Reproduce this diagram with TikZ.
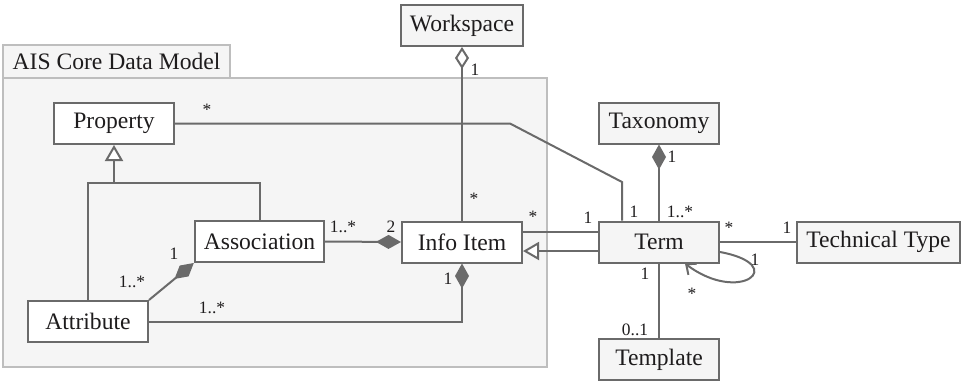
\documentclass[tikz,border=0pt]{standalone}
\usepackage{fontspec}
\setmainfont{Liberation Serif}
\usepackage{xcolor}
\usetikzlibrary{arrows.meta}

\definecolor{umlline}{HTML}{6A6A6A}
\definecolor{pkgline}{HTML}{BEBEBE}
\definecolor{pkgfill}{HTML}{F5F5F5}
\definecolor{umltext}{HTML}{1E1C1D}

\begin{document}
\begin{tikzpicture}[x=0.5pt, y=-0.5pt,
          class/.style={draw=umlline, line width=1pt, fill=white, text=umltext,
                        minimum width=60pt, minimum height=20.5pt, inner xsep=4.5pt,
                        font=\fontsize{11.8}{14}\selectfont},
          outer/.style={class, fill=pkgfill},
          link/.style={draw=umlline, line width=1pt},
          comp/.style={link, -{Diamond[length=12.5pt, width=7pt]}},
          aggr/.style={link, -{Diamond[length=11pt, width=7pt, fill=white]}},
          gen/.style={link, -{Triangle[length=8pt, width=9pt, fill=white]}},
          mult/.style={anchor=base, inner sep=0pt, text=umltext, font=\fontsize{8.7}{10}\selectfont}
        ]
          \useasboundingbox (0,0) rectangle (962,381);

          % package frame
          \node[draw=pkgline, fill=pkgfill, line width=0.8pt, minimum width=113.5pt, minimum height=16.5pt,
                inner sep=0pt, text=umltext, font=\fontsize{11.8}{14}\selectfont] (pkgtab) at (116.5,61.5) {AIS Core Data Model};
          \draw[draw=pkgline, fill=pkgfill, line width=0.8pt] (3,78) rectangle (547,367);

          % classes
          \node[class] (property) at (114,123.5) {Property};
          \node[class] (assoc) at (259.5,241.5) {Association};
          \node[class] (attr) at (88,321.5) {Attribute};
          \node[class] (info) at (462,242) {Info Item};
          \node[outer] (ws) at (462,25.5) {Workspace};
          \node[outer] (term) at (659,242) {Term};
          \node[outer] (tax) at (659,123) {Taxonomy};
          \node[outer] (tech) at (878.5,242) {Technical Type};
          \node[outer] (tmpl) at (659,359.5) {Template};

          \coordinate (gj) at (114,183);
          \coordinate (pa) at (510,123.5);
          \coordinate (pb) at (622,182);

          % generalisation to Property
          \draw[gen] (gj) -- (property.south);
          \draw[link] (attr.north) |- (gj) -| (assoc.north);

          % compositions inside the package
          \draw[comp] (attr.north east) -- (assoc.south west);
          \draw[comp] (attr.east) -| (info.south);
          \draw[comp] (assoc.east) -- (info.west);
          \draw[aggr] (info.north) -- (ws.south);

          % Term relations
          \draw[link] (property.east) -- (pa) -- (pb) -- (pb |- term.north);
          \draw[link] ([yshift=5pt]info.east) -- ([yshift=5pt]term.west);
          \draw[gen] ([yshift=-4.5pt]term.west) -- ([yshift=-4.5pt]info.east);
          \draw[comp] (term.north) -- (tax.south);
          \draw[link] (term.east) -- (tech.west);
          \draw[link] (term.south) -- (tmpl.north);
          \draw[link, -{Straight Barb[length=4pt, width=7pt]}] ([yshift=-5pt]term.east)
            .. controls (790,265) and (740,305) .. ([xshift=13pt]term.south);

          % multiplicities
          \node[mult] (mPropTerm) at (207,115) {*};
          \node[mult] (mAttrAssocA) at (174,259) {1};
          \node[mult] (mAttrAssocB) at (132,287) {1..*};
          \node[mult] (mAttrInfo) at (212,313) {1..*};
          \node[mult] (mAssocInfoA) at (343,232) {1..*};
          \node[mult] (mAssocInfoB) at (391,232) {2};
          \node[mult] (mInfoAttr) at (448,284) {1};
          \node[mult] (mWsA) at (475,75) {1};
          \node[mult] (mWsB) at (474,204) {*};
          \node[mult] (mInfoTermA) at (533,222) {*};
          \node[mult] (mInfoTermB) at (588,223) {1};
          \node[mult] (mTermProp) at (634,217) {1};
          \node[mult] (mTaxA) at (672,162) {1};
          \node[mult] (mTaxB) at (680,217) {1..*};
          \node[mult] (mTechA) at (729,233) {*};
          \node[mult] (mTechB) at (787,233) {1};
          \node[mult] (mSelfA) at (755,265) {1};
          \node[mult] (mSelfB) at (692,299) {*};
          \node[mult] (mTmplA) at (645,279) {1};
          \node[mult] (mTmplB) at (635,335) {0..1};
        \end{tikzpicture}
\end{document}
